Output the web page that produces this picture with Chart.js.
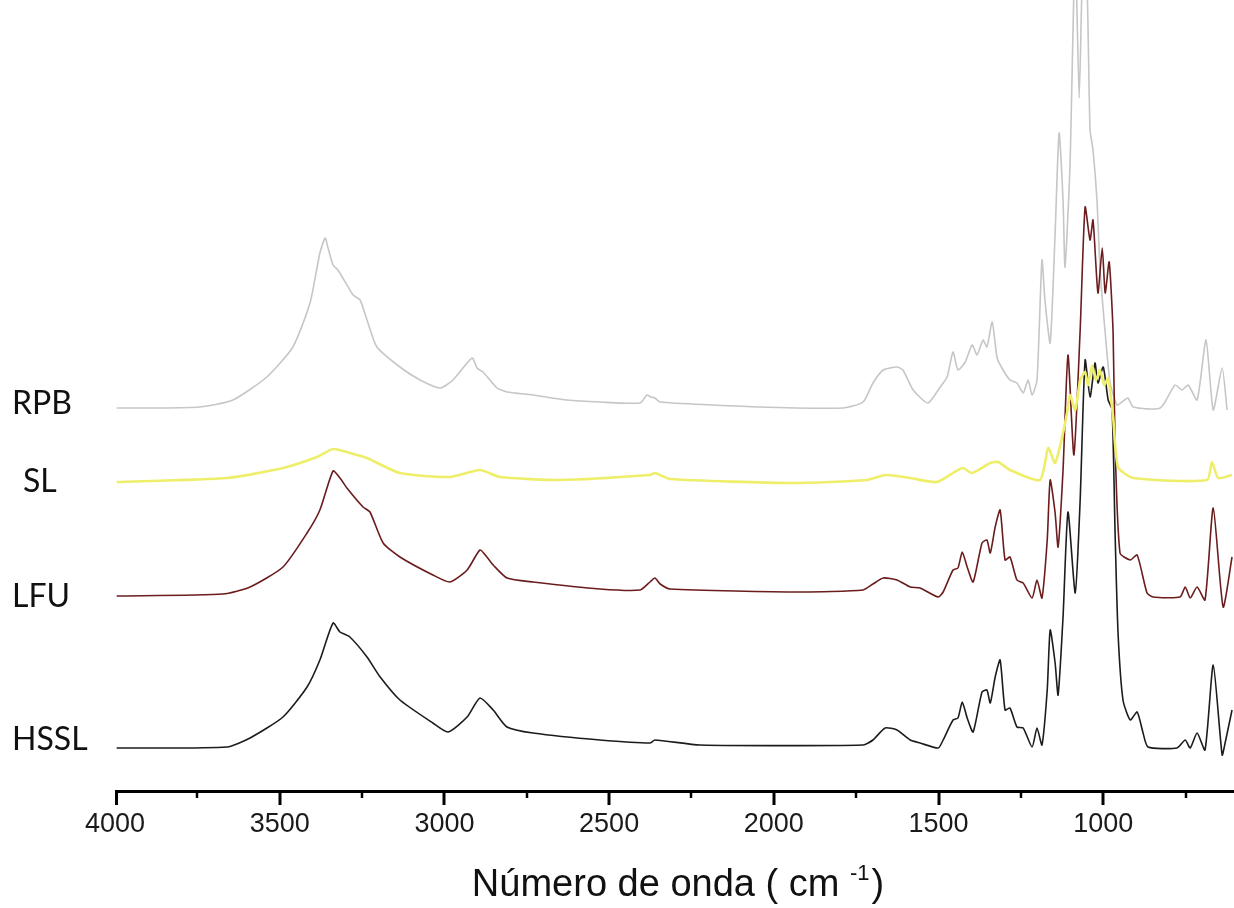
<!DOCTYPE html>
<html>
<head>
<meta charset="utf-8">
<script src="https://cdn.jsdelivr.net/npm/chart.js@4.4.0/dist/chart.umd.min.js"></script>
<style>
    html, body { margin: 0; padding: 0; background: #fff; overflow: hidden; }
    #wrap { width: 1234px; height: 908px; position: relative; }
</style>
</head>
<body>
<div id="wrap"><canvas id="ftir_chart"></canvas></div>
<script>
// samples, stacking offsets (arbitrary absorbance units) and axis ticks
const sampleNames = ['RPB', 'SL', 'LFU', 'HSSL'];
const baseLevels = [382, 308, 194, 42];
const xTicksMajor = [4000, 3500, 3000, 2500, 2000, 1500, 1000];
const xTicksMinor = [3750, 3250, 2750, 2250, 1750, 1250, 750];

// spectra: wavenumber (cm-1) / absorbance above baseline
const rpbWave = [3995, 3894, 3742, 3642, 3539, 3460, 3408, 3378, 3362, 3354, 3338, 3323, 3277, 3256, 3235, 3205, 3135, 3074, 3013, 2974, 2916, 2901, 2883, 2840, 2810, 2731, 2628, 2528, 2406, 2385, 2373, 2361, 2345, 2184, 2042, 1790, 1729, 1699, 1668, 1626, 1608, 1577, 1532, 1495, 1474, 1456, 1441, 1419, 1398, 1383, 1365, 1353, 1337, 1322, 1304, 1283, 1262, 1243, 1228, 1216, 1201, 1186, 1177, 1161, 1146, 1134, 1122, 1116, 1101, 1085, 1073, 1061, 1049, 1040, 1031, 1019, 1010, 994, 979, 958, 943, 925, 909, 827, 782, 761, 742, 715, 688, 666, 639, 624];
const rpbAbs = [0, 0, 1, 8, 31, 61, 105, 155, 170, 161, 143, 138, 113, 108, 88, 61, 41, 28, 20, 28, 50, 40, 36, 20, 16, 13, 8, 6, 5, 13, 11, 10, 6, 3, 1, 0, 6, 25, 38, 41, 38, 18, 5, 21, 31, 56, 38, 46, 63, 53, 68, 61, 86, 50, 38, 28, 25, 15, 28, 13, 28, 148, 108, 65, 175, 275, 208, 141, 241, 460, 310, 460, 420, 278, 258, 208, 141, 75, 25, 3, 6, 10, 1, 0, 23, 18, 23, 8, 68, -2, 40, -2];

const slWave = [3995, 3660, 3490, 3387, 3338, 3287, 3235, 3135, 2983, 2892, 2831, 2649, 2376, 2361, 2315, 1942, 1717, 1662, 1586, 1505, 1428, 1398, 1343, 1319, 1283, 1192, 1167, 1146, 1122, 1110, 1101, 1085, 1070, 1055, 1046, 1034, 1022, 1010, 997, 985, 970, 955, 909, 685, 670, 651, 609];
const slAbs = [0, 4, 14, 25, 33, 29, 24, 9, 5, 12, 5, 2, 7, 9, 3, -1, 2, 7, 4, 0, 14, 9, 19, 20, 12, 2, 34, 19, 49, 69, 87, 72, 102, 110, 97, 116, 102, 112, 97, 104, 65, 15, 4, 2, 20, 4, 7];

const lfuWave = [3995, 3672, 3590, 3490, 3417, 3378, 3338, 3317, 3296, 3247, 3226, 3186, 3135, 3035, 2983, 2931, 2892, 2871, 2852, 2810, 2731, 2528, 2406, 2376, 2361, 2345, 2315, 1920, 1729, 1699, 1668, 1626, 1586, 1556, 1501, 1486, 1456, 1441, 1428, 1413, 1395, 1368, 1353, 1343, 1328, 1313, 1298, 1283, 1262, 1243, 1216, 1201, 1186, 1170, 1161, 1146, 1137, 1122, 1107, 1089, 1070, 1055, 1040, 1031, 1016, 1003, 994, 982, 970, 964, 949, 918, 897, 867, 849, 767, 751, 736, 715, 691, 666, 636, 609];
const lfuAbs = [0, 2, 9, 29, 63, 86, 125, 118, 108, 89, 84, 53, 39, 21, 14, 26, 46, 39, 31, 18, 14, 7, 6, 14, 18, 12, 7, 4, 6, 12, 18, 16, 9, 8, -1, 4, 26, 28, 44, 29, 14, 53, 56, 43, 69, 86, 36, 39, 16, 13, -2, 16, -2, 56, 116, 83, 49, 126, 241, 141, 266, 389, 356, 376, 303, 348, 303, 334, 263, 150, 43, 36, 41, 3, -1, -1, 9, -2, 9, -4, 88, -11, 39];

const hsslWave = [3995, 3660, 3590, 3490, 3417, 3378, 3338, 3317, 3287, 3235, 3195, 3135, 3035, 2989, 2931, 2892, 2852, 2810, 2731, 2528, 2376, 2361, 2224, 1729, 1699, 1662, 1626, 1586, 1556, 1501, 1486, 1456, 1441, 1428, 1413, 1395, 1368, 1353, 1343, 1328, 1313, 1298, 1283, 1262, 1243, 1216, 1201, 1186, 1170, 1161, 1146, 1137, 1122, 1107, 1085, 1070, 1055, 1040, 1025, 1016, 1000, 985, 973, 964, 955, 940, 918, 897, 879, 864, 776, 751, 736, 715, 691, 666, 639, 630, 609];
const hsslAbs = [0, 1, 10, 31, 61, 88, 125, 116, 111, 91, 71, 48, 25, 16, 31, 50, 38, 21, 15, 8, 5, 8, 3, 3, 8, 20, 18, 8, 5, 0, 8, 28, 30, 46, 30, 16, 56, 58, 45, 71, 88, 38, 40, 21, 20, 1, 20, 3, 58, 118, 85, 53, 131, 236, 155, 248, 388, 351, 385, 365, 381, 348, 338, 215, 115, 48, 28, 36, 15, 1, 0, 8, 0, 15, -2, 83, -7, 5, 38];

document.addEventListener("DOMContentLoaded", function () {
    const waves = [rpbWave, slWave, lfuWave, hsslWave];
    const absValues = [rpbAbs, slAbs, lfuAbs, hsslAbs];
    const lineColors = ['#c6c6c6', '#eeee6a', '#6b1c1c', '#1c1c1c'];
    const lineWidths = [1.6, 2.6, 1.6, 1.6];
    const drawOrder = [3, 0, 2, 1];
    const labelX = [12, 23, 12, 12];
    const labelNudge = [-4, 0, 1, -8];

    function toPoints(wave, abs, base) {
        const n = Math.min(wave.length, abs.length);
        const pts = [];
        for (let i = 0; i < n; i++) {
            pts.push({ x: wave[i], y: base + abs[i] });
        }
        return pts;
    }

    const datasets = sampleNames.map((name, i) => ({
        label: name,
        data: toPoints(waves[i], absValues[i], baseLevels[i]),
        borderColor: lineColors[i],
        borderWidth: lineWidths[i],
        pointRadius: 0,
        tension: 0.2,
        fill: false,
        order: drawOrder[i]
    }));

    const decorPlugin = {
        id: 'decor',
        afterDraw(chart) {
            const ctx = chart.ctx;
            const xs = chart.scales.x;
            const ys = chart.scales.y;
            const axisY = chart.chartArea.bottom;
            ctx.save();
            // axis line and ticks
            ctx.strokeStyle = '#000';
            ctx.lineWidth = 3;
            ctx.beginPath();
            ctx.moveTo(xs.left, axisY + 1.5);
            ctx.lineTo(chart.width, axisY + 1.5);
            ctx.stroke();
            xTicksMajor.forEach(v => {
                const px = Math.round(xs.getPixelForValue(v)) + (v === 4000 ? 1.5 : 0);
                ctx.lineWidth = 3;
                ctx.beginPath();
                ctx.moveTo(px, axisY);
                ctx.lineTo(px, axisY + 15);
                ctx.stroke();
            });
            xTicksMinor.forEach(v => {
                const px = Math.round(xs.getPixelForValue(v));
                ctx.lineWidth = 2.5;
                ctx.beginPath();
                ctx.moveTo(px, axisY);
                ctx.lineTo(px, axisY + 8);
                ctx.stroke();
            });
            // sample labels
            ctx.fillStyle = '#111';
            ctx.font = '32px Lato';
            ctx.textAlign = 'left';
            ctx.textBaseline = 'middle';
            sampleNames.forEach((n, i) => {
                ctx.fillText(n, labelX[i], ys.getPixelForValue(baseLevels[i]) + labelNudge[i]);
            });
            // axis title with superscript
            const main = 'Número de onda ( cm ';
            const sup = '-1';
            const tail = ')';
            ctx.textBaseline = 'alphabetic';
            ctx.font = '38px "Liberation Sans", Arial';
            const w1 = ctx.measureText(main).width;
            const w3 = ctx.measureText(tail).width;
            ctx.font = '22px "Liberation Sans", Arial';
            const w2 = ctx.measureText(sup).width;
            let tx = 678 - (w1 + w2 + w3 + 2) / 2;
            const ty = 896;
            ctx.font = '38px "Liberation Sans", Arial';
            ctx.fillText(main, tx, ty);
            tx += w1;
            ctx.font = '22px "Liberation Sans", Arial';
            ctx.fillText(sup, tx, ty - 16);
            tx += w2 + 2;
            ctx.font = '38px "Liberation Sans", Arial';
            ctx.fillText(tail, tx, ty);
            ctx.restore();
        }
    };

    const ctx = document.getElementById("ftir_chart").getContext("2d");
    const ftirChart = new Chart(ctx, {
        type: 'line',
        data: { datasets: datasets },
        options: {
            responsive: true,
            maintainAspectRatio: false,
            animation: false,
            events: [],
            layout: { padding: { left: 115, right: 0, top: 0, bottom: 0 } },
            plugins: {
                legend: { display: false },
                tooltip: { enabled: false }
            },
            scales: {
                x: {
                    type: 'linear',
                    reverse: true,
                    min: 603,
                    max: 4000,
                    afterBuildTicks: (scale) => {
                        scale.ticks = xTicksMajor.map(v => ({ value: v }));
                    },
                    afterFit: (scale) => {
                        scale.height = 118;
                    },
                    border: { display: false },
                    grid: {
                        display: true,
                        drawOnChartArea: false,
                        drawTicks: true,
                        tickLength: 15,
                        tickColor: 'rgba(0,0,0,0)'
                    },
                    ticks: {
                        autoSkip: false,
                        maxRotation: 0,
                        padding: 3,
                        color: '#1a1a1a',
                        font: { family: '"Liberation Sans", Arial', size: 27 },
                        callback: (v) => String(v)
                    }
                },
                y: {
                    type: 'linear',
                    display: false,
                    min: 0,
                    max: 790
                }
            }
        },
        plugins: [decorPlugin]
    });
});
</script>
</body>
</html>
